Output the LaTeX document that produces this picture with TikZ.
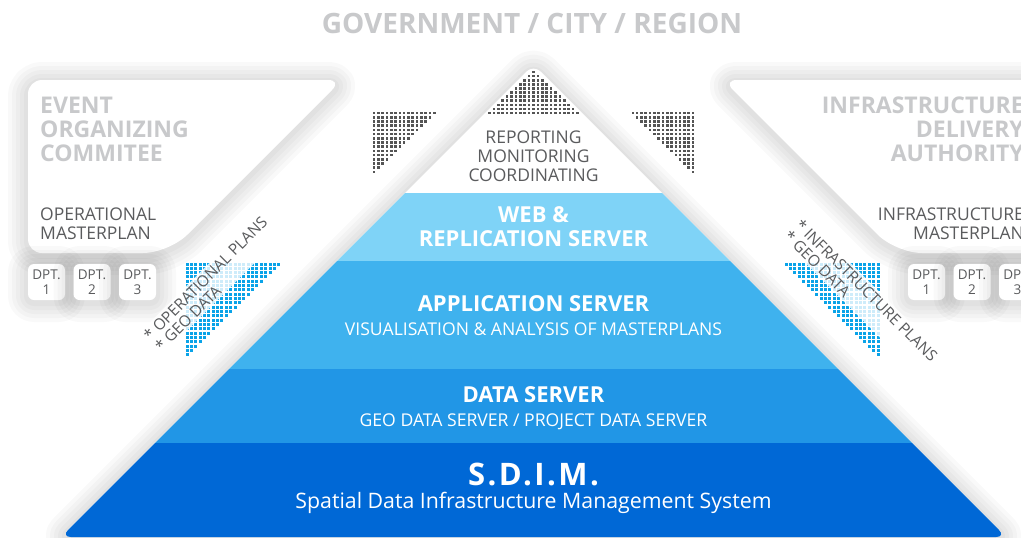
\documentclass[tikz,border=0pt]{standalone}
\usepackage{fontspec}
\setmainfont{Open Sans}
\usetikzlibrary{positioning}

\definecolor{titlegray}{HTML}{C8C9CB}
\definecolor{textgray}{HTML}{5A5B5D}
\definecolor{dotgray}{HTML}{555555}
\definecolor{dotblue}{HTML}{0AA3E8}
\definecolor{webblue}{HTML}{7FD3F7}
\definecolor{appblue}{HTML}{3FB2EE}
\definecolor{datablue}{HTML}{2196E6}
\definecolor{sdimblue}{HTML}{0068D6}

% soft shadow: a few wide transparent strokes under a shape
\newcommand{\softshadow}[1]{%
  \foreach \w in {40,32,24,16,8}{\draw[line width=\w pt, black, opacity=0.025, line join=round, yshift=-2pt] #1;}}

\begin{document}
\begin{tikzpicture}
        [x=1pt,y=-1pt,
        head/.style={font=\bfseries\fontsize{22}{24}\selectfont, text=white, align=center, inner sep=0pt},
        sub/.style={font=\fontsize{17.6}{19}\selectfont, text=white, inner sep=0pt, anchor=base},
        paneltitle/.style={font=\bfseries\fontsize{23}{24}\selectfont, text=titlegray, inner sep=0pt},
        paneltext/.style={font=\fontsize{17.5}{19}\selectfont, text=textgray, inner sep=0pt},
        dptbox/.style={fill=white, rounded corners=6pt, minimum width=37pt, minimum height=36pt, inner sep=0pt,
            align=center, font=\fontsize{13.5}{14.5}\selectfont, text=textgray},
        flowtext/.style={font=\fontsize{15.5}{16}\selectfont, text=textgray, align=left,
            fill=white, fill opacity=0.8, text opacity=1, inner sep=2pt}]

        \useasboundingbox (0,0) rectangle (1021,538);
        \clip (0,0) rectangle (1021,538);
        \fill[white] (0,0) rectangle (1021,538);

        \def\pyramid{(533.5,537) -- (1006,537) -- (533.5,64.5) -- (61,537) -- cycle}
        \def\leftpanel{(28,160) -- (28,80) -- (342,80) [rounded corners=26]-- (169,253) [rounded corners=14]-- (28,253) -- cycle}
        \def\rightpanel{(1060,80) -- (723,80) [rounded corners=26]-- (896,253) -- (1060,253)}

        % shadows
        \softshadow{[rounded corners=10] \pyramid}
        \softshadow{[rounded corners=14] \leftpanel}
        \softshadow{[rounded corners=14] \rightpanel}

        % side panels
        \fill[white, rounded corners=14] \leftpanel;
        \fill[white, rounded corners=14] \rightpanel -- cycle;

        \foreach \i in {1,2,3}{
            \pgfmathsetmacro{\xl}{46.5+45.5*(\i-1)}
            \pgfmathsetmacro{\xr}{926.5+45.5*(\i-1)}
            \softshadow{[rounded corners=6] (\xl-18.5,264) rectangle (\xl+18.5,300)}
            \softshadow{[rounded corners=6] (\xr-18.5,264) rectangle (\xr+18.5,300)}
            \node[dptbox] (ldpt\i) at (\xl,282) {DPT.\\\i};
            \node[dptbox] (rdpt\i) at (\xr,282) {DPT.\\\i};
        }

        % pyramid
        \fill[white, rounded corners=10] \pyramid;
        \begin{scope}
            \clip[rounded corners=10] \pyramid;
            \fill[webblue] (0,193) rectangle (1021,261);
            \fill[appblue] (0,261) rectangle (1021,369);
            \fill[datablue] (0,369) rectangle (1021,443);
            \fill[sdimblue] (0,443) rectangle (1021,540);
        \end{scope}

        % dot triangles
        \foreach \i in {0,...,10}{
            \foreach \j in {-\i,...,\i}{
                \fill[dotgray] (533.5+4.4*\j-1.3, 72+4.1*\i-1.3) rectangle ++(2.6,2.6);
            }
        }
        \foreach \i in {0,...,14}{
            \foreach \j in {\i,...,14}{
                \fill[dotgray] (374+4.3*\j-4.3*\i-1.3, 113+4.2*\i-1.3) rectangle ++(2.6,2.6);
                \fill[dotgray] (693-4.3*\j+4.3*\i-1.3, 113+4.2*\i-1.3) rectangle ++(2.6,2.6);
            }
        }
        \foreach \i in {0,...,21}{
            \foreach \j in {\i,...,21}{
                \fill[dotblue] (187+4.37*\j-4.37*\i-1.5, 264+4.33*\i-1.5) rectangle ++(3,3);
                \fill[dotblue] (878-4.37*\j+4.37*\i-1.5, 264+4.33*\i-1.5) rectangle ++(3,3);
            }
        }

        % texts
        \node[font=\bfseries\fontsize{28}{30}\selectfont, text=titlegray, anchor=base] (gov) at (532,34) {GOVERNMENT / CITY / REGION};

        \node[paneltitle, anchor=west, align=left] (event) at (40,129) {EVENT\\ORGANIZING\\COMMITEE};
        \node[paneltext, anchor=west, align=left] (opplan) at (40,223.5) {OPERATIONAL\\MASTERPLAN};
        \node[paneltitle, anchor=east, align=right] (infra) at (1024,129) {INFRASTRUCTURE\\DELIVERY\\AUTHORITY};
        \node[paneltext, anchor=east, align=right] (infplan) at (1024,223.5) {INFRASTRUCTURE\\MASTERPLAN};

        \node[font=\fontsize{17.5}{19}\selectfont, text=textgray, align=center] (report) at (533.5,156)
            {REPORTING\\MONITORING\\COORDINATING};
        \node[head] (web) at (533.5,227) {WEB \&\\REPLICATION SERVER};
        \node[head, anchor=base] (app) at (533.5,311) {APPLICATION SERVER};
        \node[sub] (appsub) at (533.5,335) {VISUALISATION \& ANALYSIS OF MASTERPLANS};
        \node[head, anchor=base] (data) at (533.5,402) {DATA SERVER};
        \node[sub] (datasub) at (533.5,426) {GEO DATA SERVER / PROJECT DATA SERVER};
        \node[head, anchor=base, font=\bfseries\fontsize{31}{34}\selectfont\addfontfeature{LetterSpace=8}] (sdim) at (533.5,485) {S.D.I.M.};
        \node[sub, font=\fontsize{21.3}{24}\selectfont] (sdimsub) at (533.5,508) {Spatial Data Infrastructure Management System};

        \node[flowtext, rotate=45] (opflow) at (211,284) {* OPERATIONAL PLANS\\* GEO DATA};
        \node[flowtext, rotate=-45] (infflow) at (861,296) {* INFRASTRUCTURE PLANS\\* GEO DATA};

    \end{tikzpicture}
\end{document}
